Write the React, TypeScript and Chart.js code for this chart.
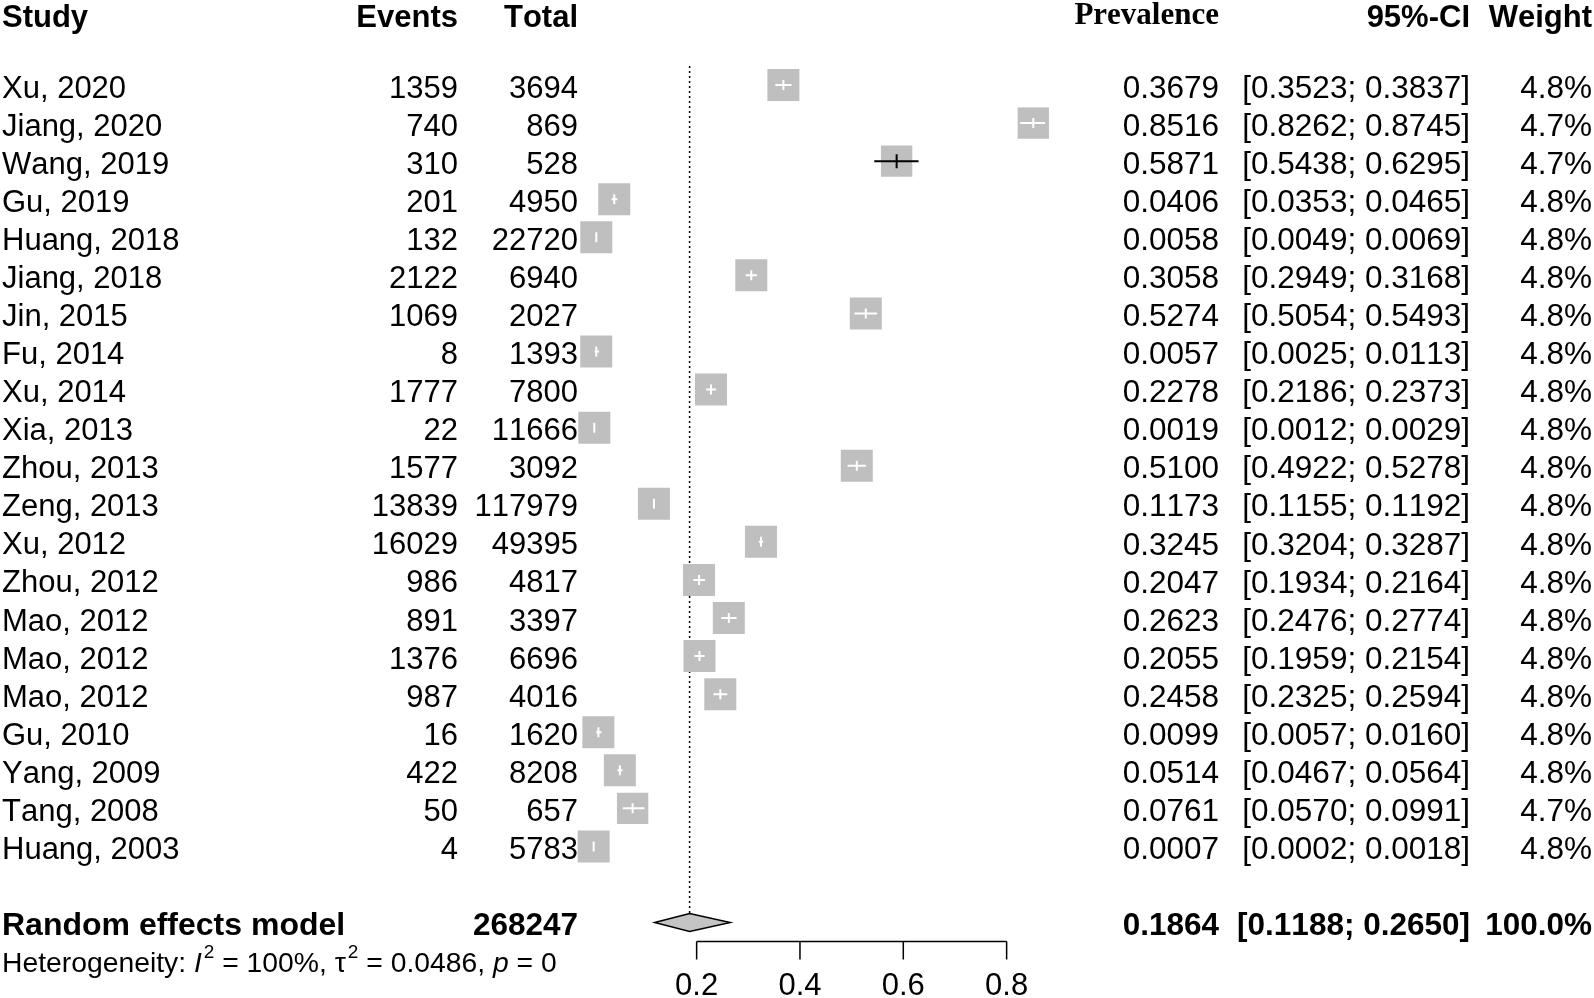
import React, { useEffect, useRef } from "react";
import { Chart, registerables } from "chart.js";

Chart.register(...registerables);

const studies = ["Xu, 2020", "Jiang, 2020", "Wang, 2019", "Gu, 2019", "Huang, 2018", "Jiang, 2018", "Jin, 2015", "Fu, 2014", "Xu, 2014", "Xia, 2013", "Zhou, 2013", "Zeng, 2013", "Xu, 2012", "Zhou, 2012", "Mao, 2012", "Mao, 2012", "Mao, 2012", "Gu, 2010", "Yang, 2009", "Tang, 2008", "Huang, 2003"];
const events = [1359, 740, 310, 201, 132, 2122, 1069, 8, 1777, 22, 1577, 13839, 16029, 986, 891, 1376, 987, 16, 422, 50, 4];
const totals = [3694, 869, 528, 4950, 22720, 6940, 2027, 1393, 7800, 11666, 3092, 117979, 49395, 4817, 3397, 6696, 4016, 1620, 8208, 657, 5783];
const prevalence = [0.3679, 0.8516, 0.5871, 0.0406, 0.0058, 0.3058, 0.5274, 0.0057, 0.2278, 0.0019, 0.51, 0.1173, 0.3245, 0.2047, 0.2623, 0.2055, 0.2458, 0.0099, 0.0514, 0.0761, 0.0007];
const lower = [0.3523, 0.8262, 0.5438, 0.0353, 0.0049, 0.2949, 0.5054, 0.0025, 0.2186, 0.0012, 0.4922, 0.1155, 0.3204, 0.1934, 0.2476, 0.1959, 0.2325, 0.0057, 0.0467, 0.057, 0.0002];
const upper = [0.3837, 0.8745, 0.6295, 0.0465, 0.0069, 0.3168, 0.5493, 0.0113, 0.2373, 0.0029, 0.5278, 0.1192, 0.3287, 0.2164, 0.2774, 0.2154, 0.2594, 0.016, 0.0564, 0.0991, 0.0018];
const weights = [4.8, 4.7, 4.7, 4.8, 4.8, 4.8, 4.8, 4.8, 4.8, 4.8, 4.8, 4.8, 4.8, 4.8, 4.8, 4.8, 4.8, 4.8, 4.8, 4.7, 4.8];

const pooledLabel = "Random effects model";
const pooledTotal = 268247;
const pooledEstimate = 0.1864;
const pooledLower = 0.1188;
const pooledUpper = 0.265;
const pooledWeight = 100.0;
const heterogeneity = { i2: "100%", tau2: "0.0486", p: "0" };

const headers = ["Study", "Events", "Total", "Prevalence", "95%-CI", "Weight"];
const xTicks = [0.2, 0.4, 0.6, 0.8];
const xTickLabels = ["0.2", "0.4", "0.6", "0.8"];

const SANS = '"Liberation Sans", Arial, sans-serif';
const SERIF = '"Liberation Serif", "Times New Roman", serif';
const SQUARE_PER_WEIGHT = 32 / 4.8;
const TEXT_DY = 4;

const fmt4 = (v: number) => v.toFixed(4);
const ciText = (lo: number, hi: number) => `[${fmt4(lo)}; ${fmt4(hi)}]`;

const forestPlugin = {
  id: "forest",
  beforeDatasetsDraw(chart: any) {
    const ctx = chart.ctx;
    const xs = chart.scales.x;
    const ys = chart.scales.y;
    const xr = xs.getPixelForValue(pooledEstimate);
    ctx.save();
    ctx.strokeStyle = "#000";
    ctx.lineWidth = 1.5;
    ctx.setLineDash([2, 3]);
    ctx.beginPath();
    ctx.moveTo(xr, ys.getPixelForValue(-0.5));
    ctx.lineTo(xr, ys.getPixelForValue(studies.length + 1) - 9);
    ctx.stroke();
    ctx.restore();
  },
  afterDatasetsDraw(chart: any) {
    const ctx = chart.ctx;
    const xs = chart.scales.x;
    const ys = chart.scales.y;
    ctx.save();
    if ("fontKerning" in ctx) (ctx as any).fontKerning = "none";
    // CI lines
    for (let i = 0; i < studies.length; i++) {
      const y = ys.getPixelForValue(i);
      const xl = xs.getPixelForValue(lower[i]);
      const xu = xs.getPixelForValue(upper[i]);
      const xm = xs.getPixelForValue(prevalence[i]);
      const half = (weights[i] * SQUARE_PER_WEIGHT) / 2;
      const inside = xl >= xm - half && xu <= xm + half;
      ctx.strokeStyle = inside ? "#ffffff" : "#000000";
      ctx.lineWidth = 2;
      const th = inside ? 5 : 7;
      ctx.beginPath();
      ctx.moveTo(xl, y);
      ctx.lineTo(xu, y);
      ctx.moveTo(xm, y - th);
      ctx.lineTo(xm, y + th);
      ctx.stroke();
    }
    // diamond
    const yd = ys.getPixelForValue(studies.length + 1);
    ctx.beginPath();
    ctx.moveTo(xs.getPixelForValue(pooledLower), yd);
    ctx.lineTo(xs.getPixelForValue(pooledEstimate), yd - 9);
    ctx.lineTo(xs.getPixelForValue(pooledUpper), yd);
    ctx.lineTo(xs.getPixelForValue(pooledEstimate), yd + 9);
    ctx.closePath();
    ctx.fillStyle = "#c4c4c4";
    ctx.fill();
    ctx.strokeStyle = "#000";
    ctx.lineWidth = 1.5;
    ctx.stroke();

    // x axis
    const ya = yd + 19;
    const x0 = xs.getPixelForValue(xTicks[0]);
    const x1 = xs.getPixelForValue(xTicks[xTicks.length - 1]);
    ctx.lineWidth = 1.5;
    ctx.beginPath();
    ctx.moveTo(x0, ya);
    ctx.lineTo(x1, ya);
    xTicks.forEach((t) => {
      const xt = xs.getPixelForValue(t);
      ctx.moveTo(xt, ya);
      ctx.lineTo(xt, ya + 18);
    });
    ctx.stroke();
    ctx.fillStyle = "#000";
    ctx.font = `31px ${SANS}`;
    ctx.textAlign = "center";
    ctx.textBaseline = "middle";
    xTicks.forEach((t, k) => {
      ctx.fillText(xTickLabels[k], xs.getPixelForValue(t), ya + 45);
    });

    // text columns
    const colStudy = 2;
    const colEvents = 458;
    const colTotal = 578;
    const colPrev = 1219;
    const colCI = 1470;
    const colWeight = 1592;
    const yh = ys.getPixelForValue(-1.85) + TEXT_DY;
    ctx.font = `bold 31px ${SANS}`;
    ctx.textAlign = "left";
    ctx.fillText(headers[0], colStudy, yh);
    ctx.textAlign = "right";
    ctx.fillText(headers[1], colEvents, yh);
    ctx.fillText(headers[2], colTotal, yh);
    ctx.fillText(headers[4], colCI, yh);
    ctx.fillText(headers[5], colWeight, yh);
    ctx.font = `bold 31px ${SERIF}`;
    ctx.fillText(headers[3], colPrev, yh - 3);

    for (let i = 0; i < studies.length; i++) {
      const y = ys.getPixelForValue(i) + TEXT_DY;
      ctx.font = `31px ${SANS}`;
      ctx.textAlign = "left";
      ctx.fillText(studies[i], colStudy, y);
      ctx.textAlign = "right";
      ctx.fillText(String(events[i]), colEvents, y);
      ctx.fillText(String(totals[i]), colTotal, y);
      ctx.font = `31.5px ${SANS}`;
      ctx.fillText(fmt4(prevalence[i]), colPrev, y);
      ctx.fillText(ciText(lower[i], upper[i]), colCI, y);
      ctx.fillText(`${weights[i].toFixed(1)}%`, colWeight, y);
    }

    const ydt = yd + TEXT_DY;
    ctx.font = `bold 32px ${SANS}`;
    ctx.textAlign = "left";
    ctx.fillText(pooledLabel, colStudy, ydt);
    ctx.font = `bold 31.5px ${SANS}`;
    ctx.textAlign = "right";
    ctx.fillText(String(pooledTotal), colTotal, ydt);
    ctx.fillText(fmt4(pooledEstimate), colPrev, ydt);
    ctx.fillText(ciText(pooledLower, pooledUpper), colCI, ydt);
    ctx.fillText(`${pooledWeight.toFixed(1)}%`, colWeight, ydt);

    // heterogeneity line
    const yhet = ys.getPixelForValue(studies.length + 2) + TEXT_DY;
    ctx.textAlign = "left";
    let cx = colStudy;
    const part = (txt: string, font: string, dy = 0) => {
      ctx.font = font;
      ctx.fillText(txt, cx, yhet + dy);
      cx += ctx.measureText(txt).width;
    };
    const normal = `28.3px ${SANS}`;
    const ital = `italic 28.3px ${SANS}`;
    const sup = `19px ${SANS}`;
    part("Heterogeneity: ", normal);
    part("I", ital);
    cx += 2;
    part("2", sup, -12);
    part(` = ${heterogeneity.i2}, `, normal);
    part("\u03c4", normal);
    cx += 2;
    part("2", sup, -12);
    part(` = ${heterogeneity.tau2}, `, normal);
    part("p", ital);
    part(` = ${heterogeneity.p}`, normal);
    ctx.restore();
  },
};

export default function App() {
  const ref = useRef<HTMLCanvasElement | null>(null);
  useEffect(() => {
    document.body.style.margin = "0";
    document.body.style.background = "#fff";
    if (!ref.current) return;
    const chart = new Chart(ref.current, {
      type: "scatter",
      data: {
        datasets: [
          {
            data: prevalence.map((p, i) => ({ x: p, y: i })),
            pointStyle: "rect",
            pointRadius: weights.map((w) => (w * SQUARE_PER_WEIGHT) / (2 * Math.SQRT1_2)),
            pointHoverRadius: weights.map((w) => (w * SQUARE_PER_WEIGHT) / (2 * Math.SQRT1_2)),
            backgroundColor: "#bfbfbf",
            borderWidth: 0,
            clip: false,
          } as any,
        ],
      },
      options: {
        responsive: false,
        animation: false,
        devicePixelRatio: 1,
        events: [],
        layout: { autoPadding: false, padding: { left: 593.3, right: 535.7, top: 0, bottom: 0 } },
        scales: {
          x: { type: "linear", min: 0, max: 0.9, display: false },
          y: { type: "linear", min: -2.233, max: 23.982, reverse: true, display: false },
        },
        plugins: { legend: { display: false }, tooltip: { enabled: false } },
      },
      plugins: [forestPlugin],
    });
    return () => chart.destroy();
  }, []);
  return (
    <div style={{ width: 1594, height: 998, overflow: "hidden", background: "#fff" }}>
      <canvas ref={ref} width={1594} height={998} style={{ display: "block" }} />
    </div>
  );
}
